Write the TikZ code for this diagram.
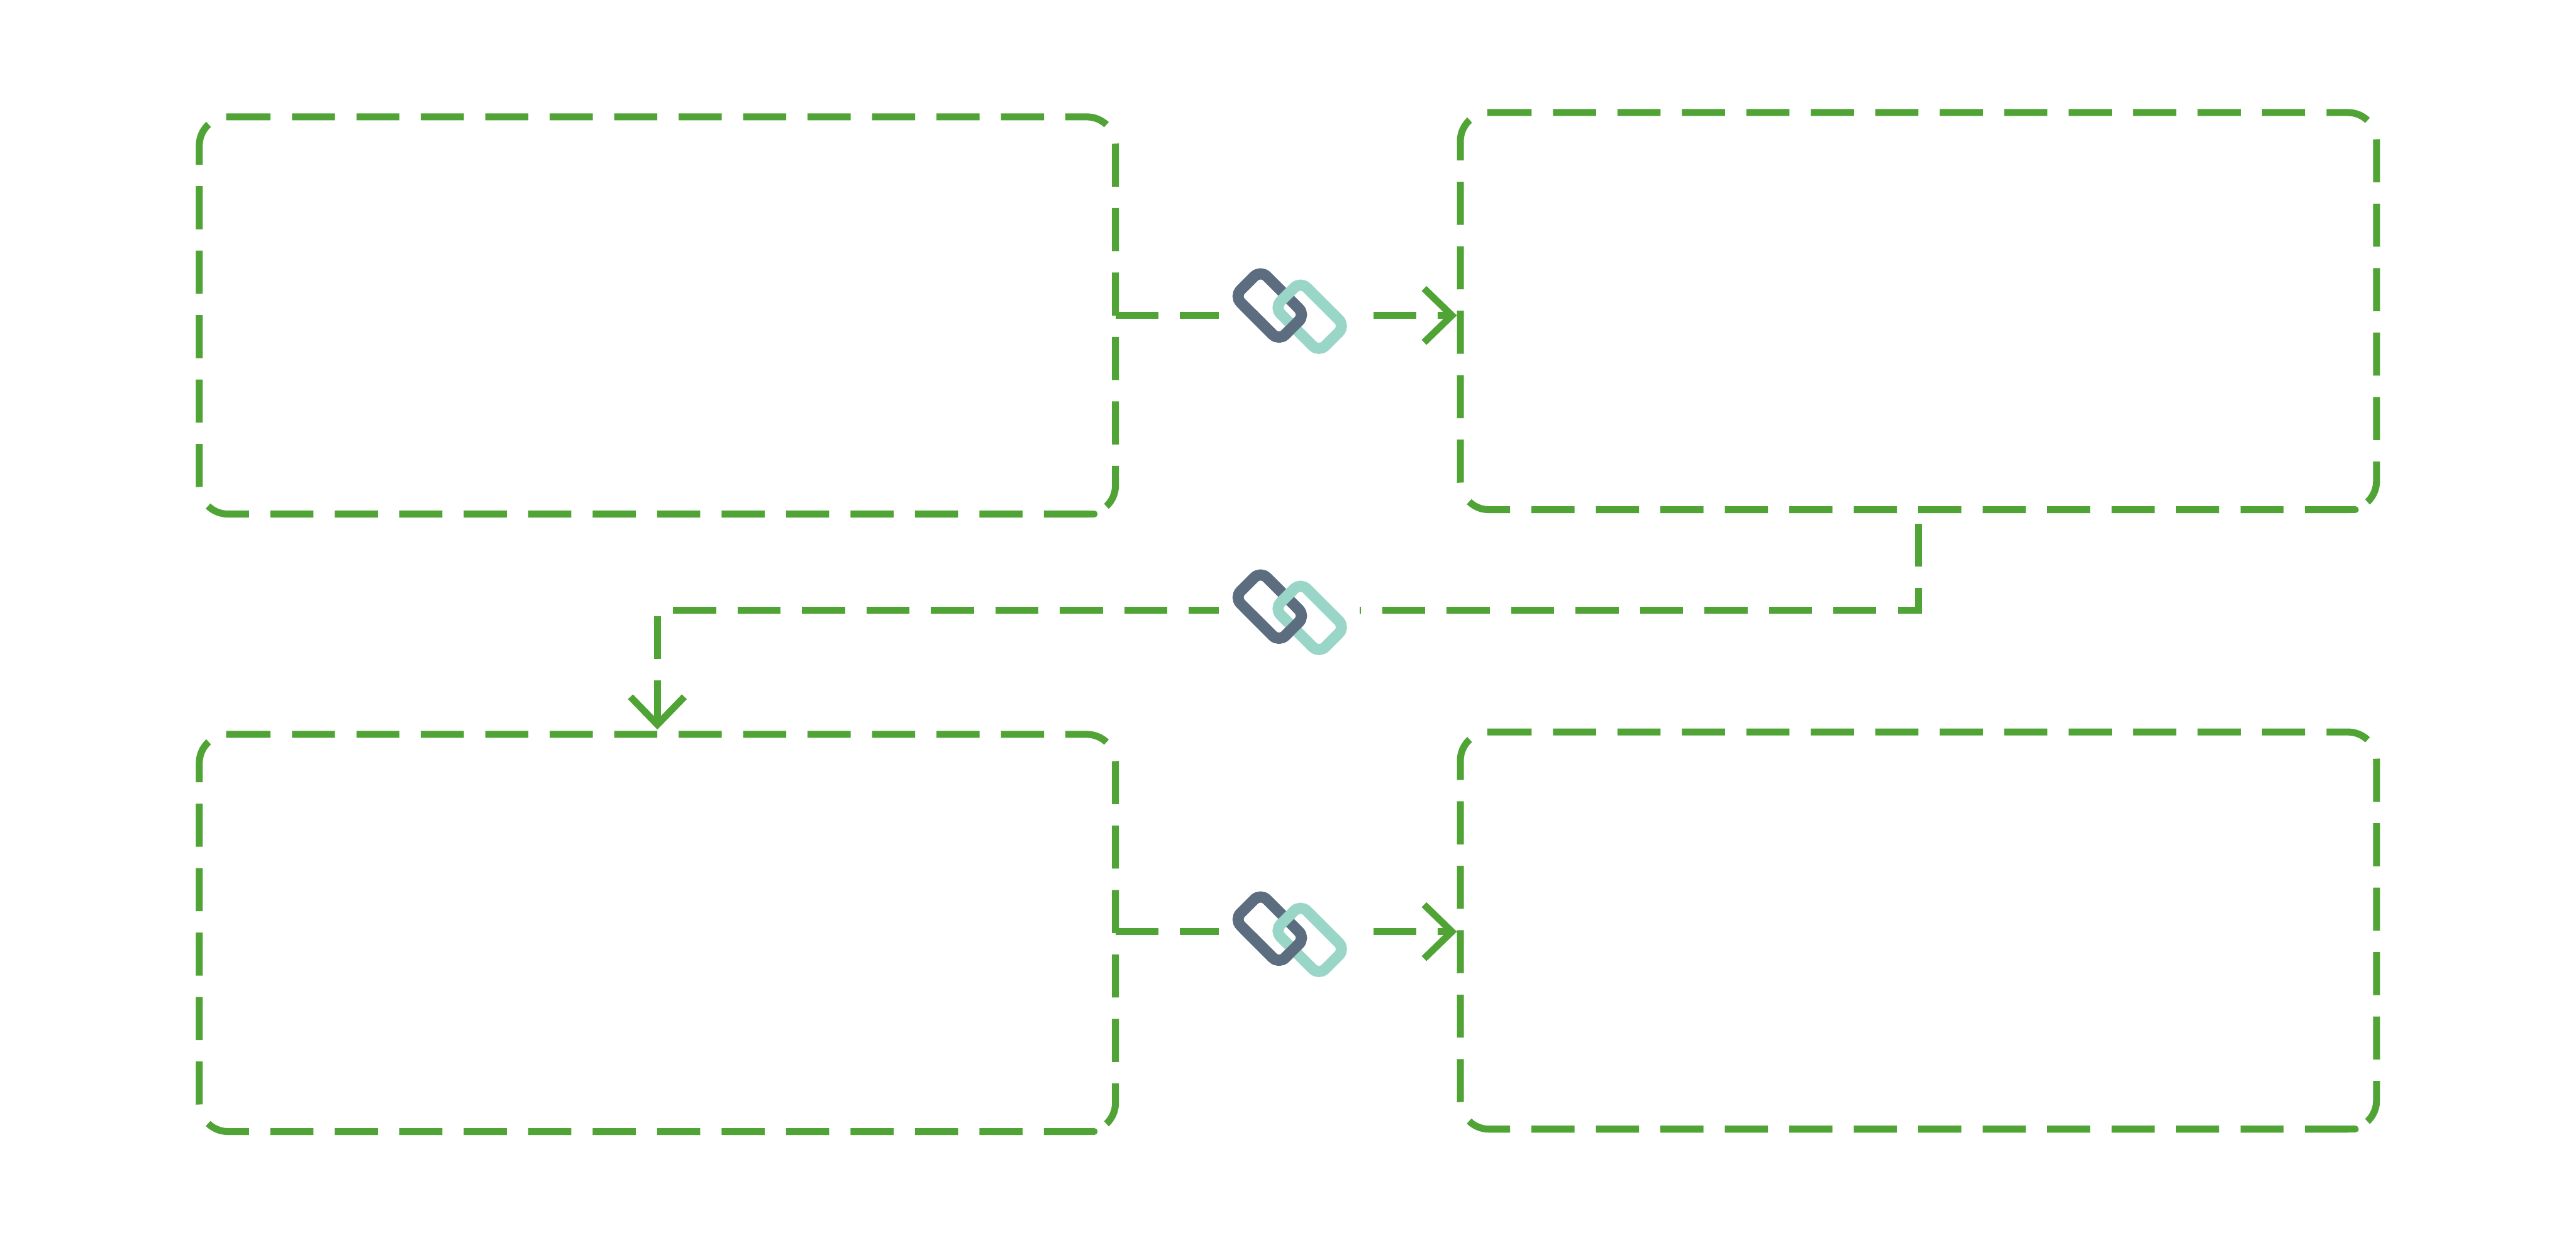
\documentclass[tikz,border=0pt]{standalone}
\usetikzlibrary{arrows.meta,calc,positioning}
\definecolor{linegreen}{HTML}{50A335}
\definecolor{linkdark}{HTML}{5B6D7F}
\definecolor{linklight}{HTML}{9AD6C8}
\tikzset{regionbox/.style={minimum width=21.08cm,minimum height=9.14cm,inner sep=0pt,outer sep=0pt},
  regionline/.style={draw=linegreen,line width=.16cm,dash pattern=on .99cm off .493cm,rounded corners=.66cm},
  regionstub/.style={draw=linegreen,line width=.16cm,line cap=round},
  arr/.style={draw=linegreen,line width=.16cm,dash pattern=on .99cm off .493cm,
    -{Straight Barb[length=.64cm,width=1.24cm,line width=.16cm]}},
  linkgap/.style={fill=white,minimum width=3.24cm,minimum height=2.1cm,inner sep=0pt,outer sep=0pt},
  linkring/.style={draw,rotate=-45,minimum width=1.45cm,minimum height=.85cm,inner sep=0pt,outer sep=0pt,
    line width=.255cm,rounded corners=.205cm}}

\begin{document}
\begin{tikzpicture}
\useasboundingbox (0,0) rectangle (59.27,28.64);
% regions
\node[regionbox] (boxa) at (15.125,21.38) {};
\node[regionbox] (boxb) at (44.14,21.48) {};
\node[regionbox] (boxc) at (15.125,7.17) {};
\node[regionbox] (boxd) at (44.14,7.225) {};
\foreach \nm in {boxa,boxb,boxc,boxd}{
  \draw[regionline] ($(\nm.north west)+(.65,0)$) -- (\nm.north east) -- (\nm.south east)
    -- (\nm.south west) -- (\nm.north west) -- ($(\nm.north west)+(.62,0)$);
  \draw[regionstub] ($(\nm.south east)+(-.68,0)$) -- ($(\nm.south east)+(-.49,0)$);
}
% connectors
\coordinate (startc) at ($(boxc.east)+(0,.03)$);
\coordinate (bend) at (44.14,14.59);
\draw[arr,shorten >=.08cm] (boxa.east) -- (boxa.east -| boxb.west);
\draw[arr,shorten >=.11cm,dash phase=1.16cm] (boxb.south) -- (bend) -- (bend -| boxc.north) -- (boxc.north);
\draw[arr,shorten >=.08cm] (startc) -- (startc -| boxd.west);
% links on the connectors
\foreach \nm/\cy in {a/21.61,b/14.68,c/7.27}{
  \node[linkgap] (gap\nm) at (29.67,\cy-.13) {};
  \node[linkring,linkdark] (dark\nm) at (29.215,\cy) {};
  \node[linkring,linklight] (light\nm) at ($(dark\nm)+(.92,-.26)$) {};
  \begin{scope}
    \clip (28,\cy-.1) rectangle (31.5,\cy-1.5);
    \node[linkring,linkdark] (over\nm) at (dark\nm) {};
  \end{scope}
}
\end{tikzpicture}
\end{document}
